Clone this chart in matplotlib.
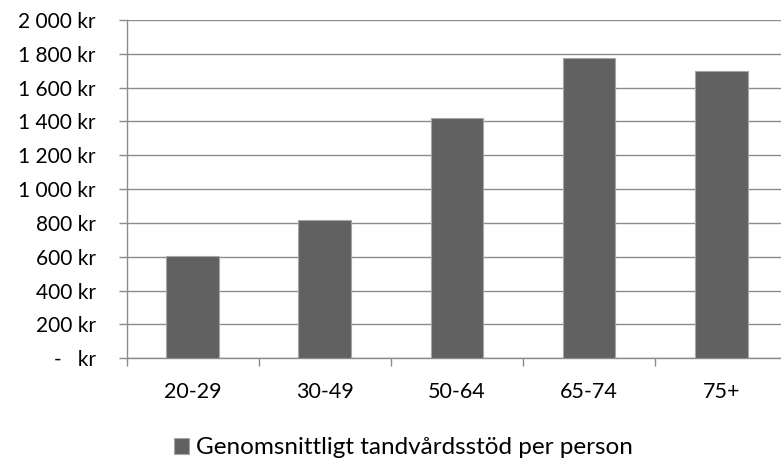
import matplotlib

matplotlib.use("Agg")
import matplotlib.pyplot as plt
from matplotlib.patches import Patch

# data
categories = ["20-29", "30-49", "50-64", "65-74", "75+"]
values = [606, 817, 1419, 1773, 1698]
yticks = [0, 200, 400, 600, 800, 1000, 1200, 1400, 1600, 1800, 2000]
series_name = "Genomsnittligt tandvårdsstöd per person"

plt.rcParams["font.family"] = ["Lato", "DejaVu Sans"]

W, H = 781, 461
fig = plt.figure(figsize=(W / 100, H / 100), dpi=100)
left, right, top, bottom = 126.7, 787.2, 20.0, 358.3
ax = fig.add_axes([left / W, 1 - bottom / H, (right - left) / W, (bottom - top) / H])

grid_c = "#8c8c8c"
x = list(range(len(categories)))
ax.bar(x, values, width=0.4, color="#616161", edgecolor="#a6a6a6", linewidth=0.8, zorder=3)

ax.set_xlim(-0.5, len(categories) - 0.5)
ax.set_ylim(0, 2000)
ax.set_yticks(yticks)
ax.set_yticklabels(["-   kr" if v == 0 else f"{v:,} kr".replace(",", " ") for v in yticks])
ax.yaxis.grid(True, color=grid_c, linewidth=1.0, zorder=0)
ax.set_axisbelow(True)

# category labels centered, tick marks at boundaries
ax.set_xticks(x)
ax.set_xticklabels(categories)
ax.tick_params(axis="x", length=0, pad=17, labelsize=15.5)
ax.set_xticks([i - 0.5 for i in range(len(categories) + 1)], minor=True)
ax.tick_params(axis="x", which="minor", length=5.8, width=1.0, color=grid_c)
ax.tick_params(axis="y", length=5.8, width=1.0, color=grid_c, pad=16.5, labelsize=15)

for s in ["top", "right"]:
    ax.spines[s].set_visible(False)
for s in ["left", "bottom"]:
    ax.spines[s].set_color(grid_c)
    ax.spines[s].set_linewidth(1.0)

handle = Patch(facecolor="#616161", edgecolor="#a6a6a6", linewidth=0.8)
fig.legend([handle], [series_name], loc="center", bbox_to_anchor=(403 / W, 1 - 448 / H),
           frameon=False, fontsize=17.5, handlelength=0.65, handleheight=0.65,
           handletextpad=0.25, borderpad=0)

fig.savefig("out.png", dpi=100)
